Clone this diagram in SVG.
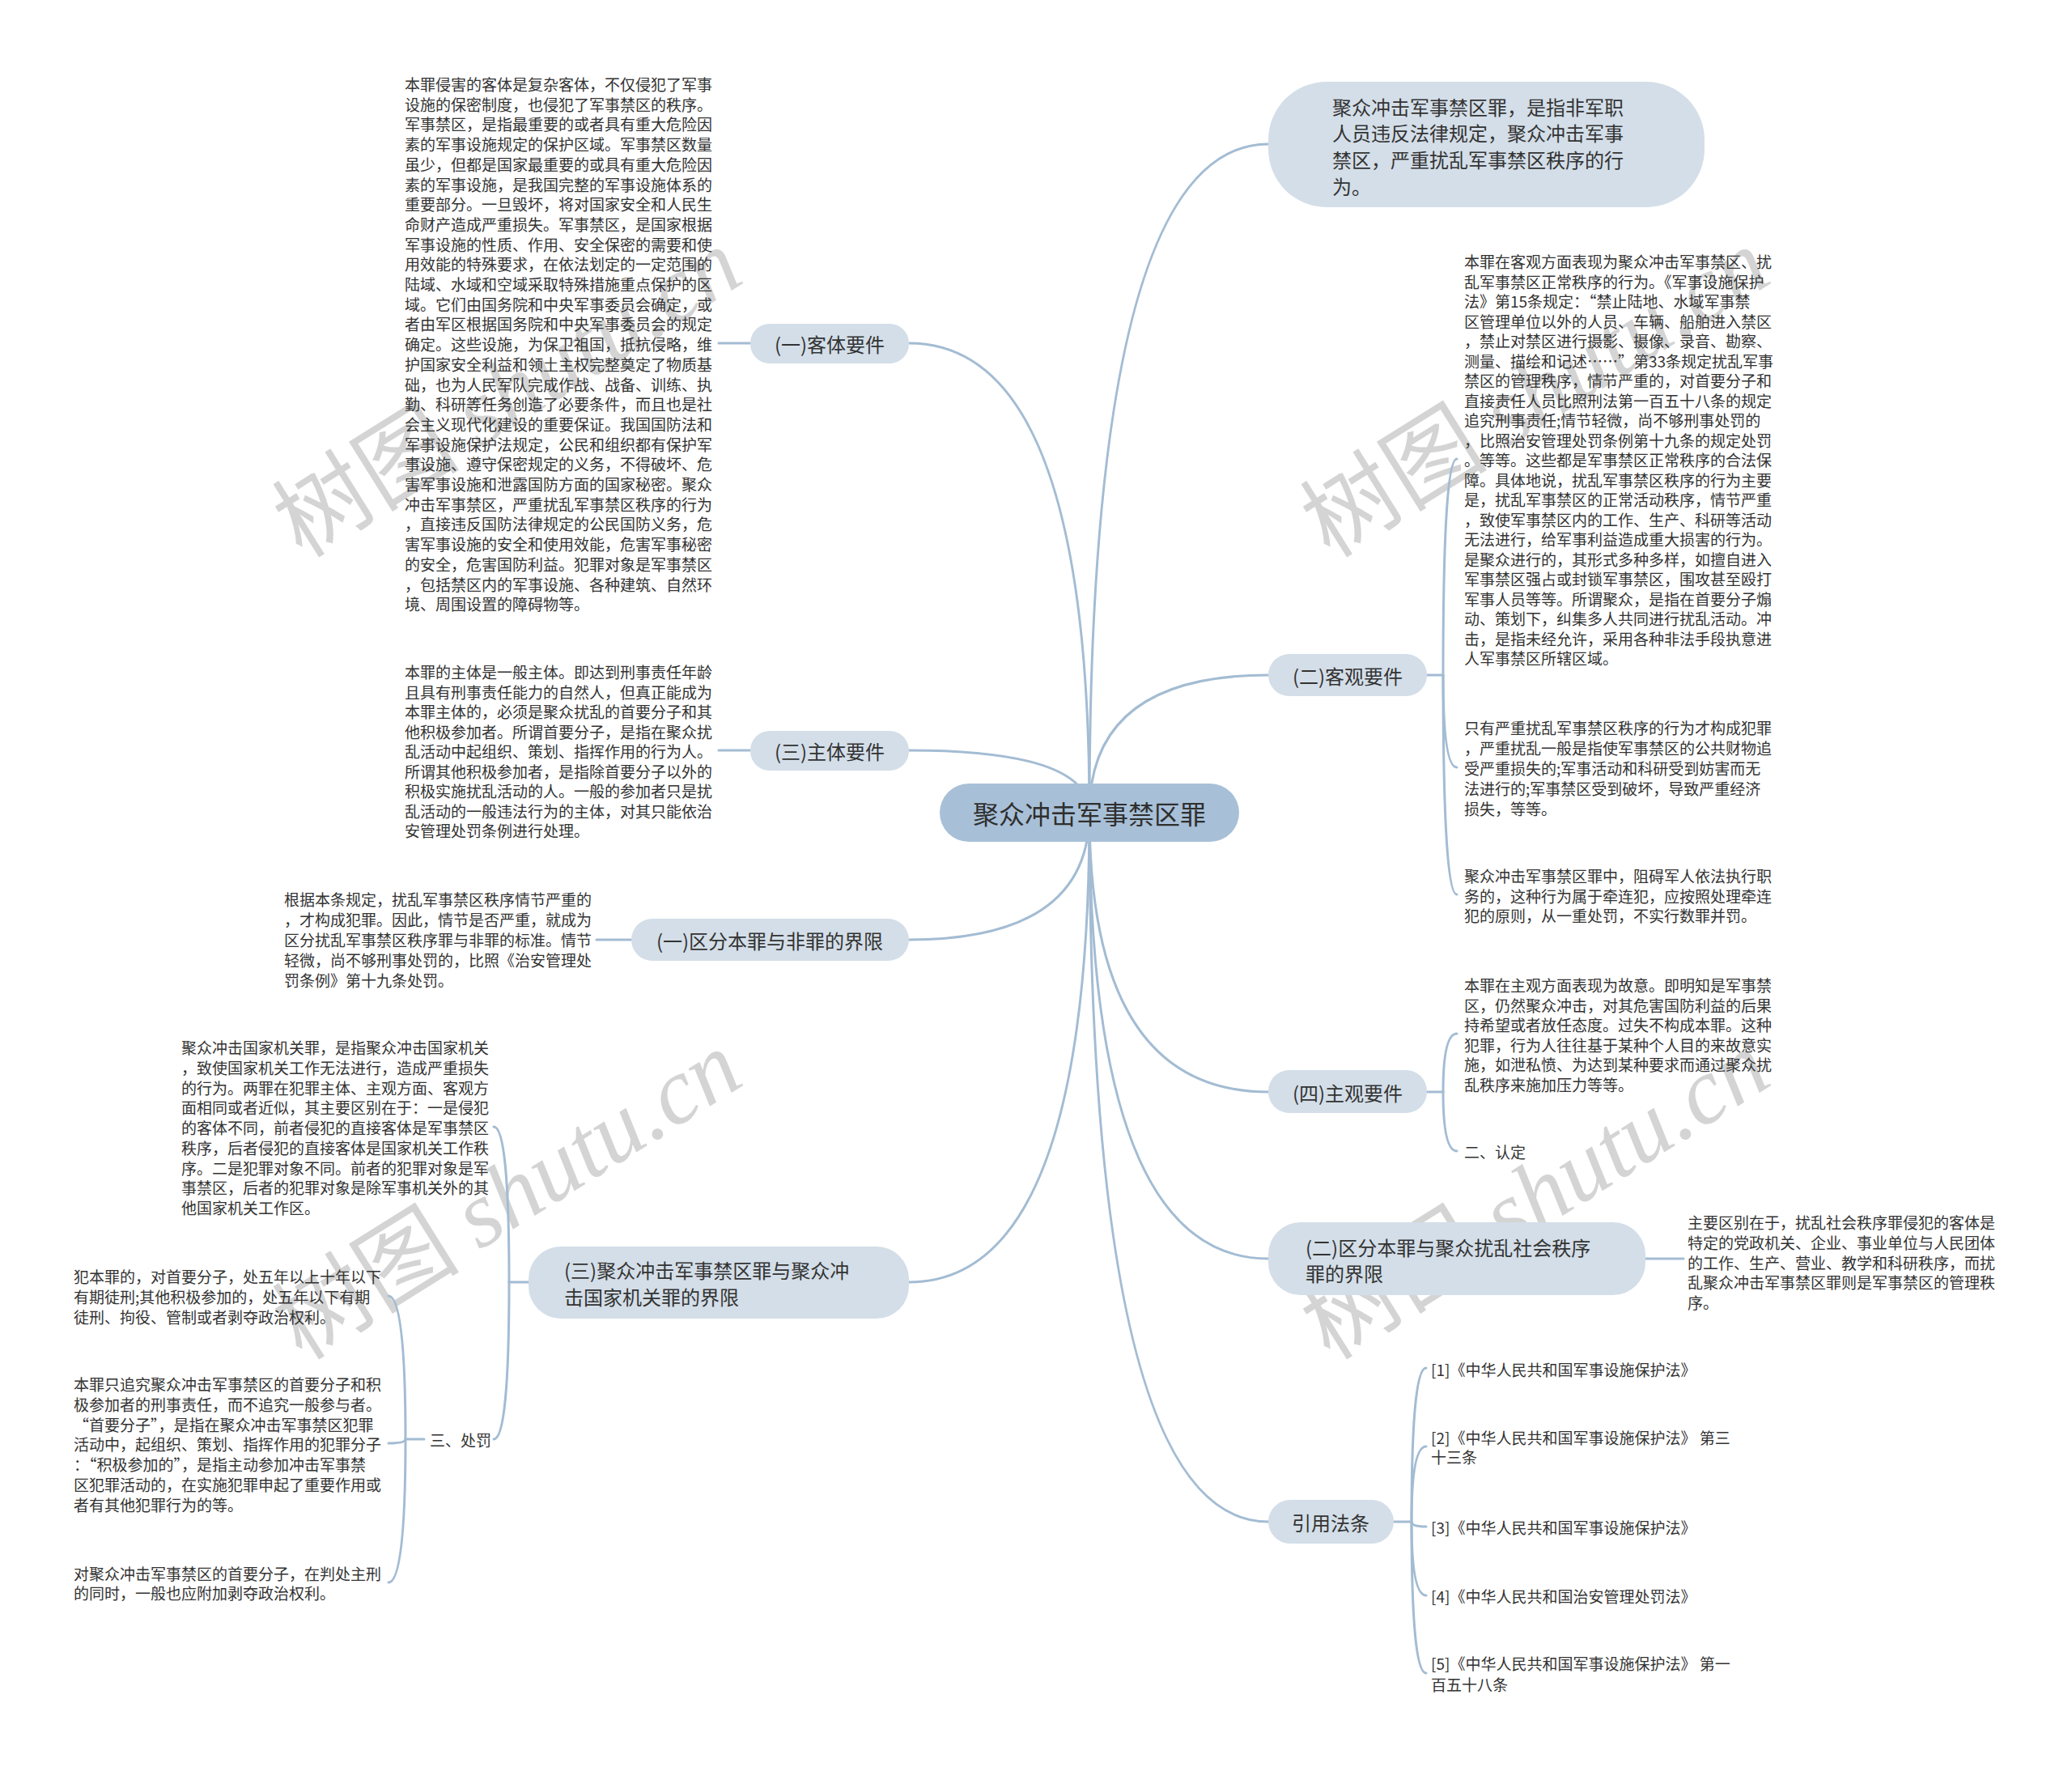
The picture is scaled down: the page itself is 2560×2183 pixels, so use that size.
<svg xmlns="http://www.w3.org/2000/svg" width="2560" height="2183" viewBox="0 0 2560 2183">
<style>
.bg{fill:#ffffff}
.wm{font-family:"Noto Sans CJK SC",sans-serif;font-size:116px;fill:#c2c2c2;opacity:0.7}
.wm .en{font-family:"Liberation Serif",serif;font-style:italic}
.ln{fill:none;stroke:#a3bcd3;stroke-width:3;stroke-linecap:round}
.n1{fill:#d3dee8}
.n0{fill:#a8c0d7}
.t1{font-family:"Noto Sans CJK SC","Liberation Sans",sans-serif;font-size:24px;fill:#333333;dominant-baseline:central}
.t0{font-family:"Noto Sans CJK SC","Liberation Sans",sans-serif;font-size:32px;fill:#2f2f2f;dominant-baseline:central}
.lf{font-family:"Noto Sans CJK SC","Liberation Sans",sans-serif;font-size:19px;fill:#333333;dominant-baseline:central}
.mid{text-anchor:middle}
</style>
<rect class="bg" x="0" y="0" width="2560" height="2183"/>

<g id="watermarks">
<text class="wm" text-anchor="middle" transform="translate(648,519) rotate(-32)">树图 <tspan class="en">shutu.cn</tspan></text>
<text class="wm" text-anchor="middle" transform="translate(1918,519) rotate(-32)">树图 <tspan class="en">shutu.cn</tspan></text>
<text class="wm" text-anchor="middle" transform="translate(648,1510) rotate(-32)">树图 <tspan class="en">shutu.cn</tspan></text>
<text class="wm" text-anchor="middle" transform="translate(1918,1510) rotate(-32)">树图 <tspan class="en">shutu.cn</tspan></text>
</g>

<g id="connectors">
<path class="ln" d="M1346,1004 Q1346,424 1123,424"/>
<path class="ln" d="M1346,1004 Q1346,927 1123,927"/>
<path class="ln" d="M1346,1004 Q1346,1161 1123,1161"/>
<path class="ln" d="M1346,1004 Q1346,1584 1123,1584"/>
<path class="ln" d="M1346,1004 Q1346,178 1567,178"/>
<path class="ln" d="M1346,1004 Q1346,834 1567,834"/>
<path class="ln" d="M1346,1004 Q1346,1349 1567,1349"/>
<path class="ln" d="M1346,1004 Q1346,1555 1567,1555"/>
<path class="ln" d="M1346,1004 Q1346,1880 1567,1880"/>
<path class="ln" d="M927,424 H888"/>
<path class="ln" d="M927,927 H888"/>
<path class="ln" d="M780,1161 H737"/>
<path class="ln" d="M653,1584 H629"/>
<path class="ln" d="M629,1584 Q629,1392 610,1392"/>
<path class="ln" d="M629,1584 Q629,1778 610,1778"/>
<path class="ln" d="M524,1778 H501"/>
<path class="ln" d="M501,1778 Q501,1601 480,1601"/>
<path class="ln" d="M501,1778 Q501,1783 480,1783"/>
<path class="ln" d="M501,1778 Q501,1955 480,1955"/>
<path class="ln" d="M1763,834 H1783"/>
<path class="ln" d="M1783,834 Q1783,567 1800,567"/>
<path class="ln" d="M1783,834 Q1783,948 1800,948"/>
<path class="ln" d="M1783,834 Q1783,1105 1800,1105"/>
<path class="ln" d="M1763,1349 H1783"/>
<path class="ln" d="M1783,1349 Q1783,1277 1800,1277"/>
<path class="ln" d="M1783,1349 Q1783,1422 1800,1422"/>
<path class="ln" d="M2033,1555 H2080"/>
<path class="ln" d="M1722,1880 H1744"/>
<path class="ln" d="M1744,1880 Q1744,1690 1762,1690"/>
<path class="ln" d="M1744,1880 Q1744,1787 1762,1787"/>
<path class="ln" d="M1744,1880 Q1744,1886 1762,1886"/>
<path class="ln" d="M1744,1880 Q1744,1971 1762,1971"/>
<path class="ln" d="M1744,1880 Q1744,2067 1762,2067"/>
</g>

<g id="root">
<rect class="n0" x="1161" y="968" width="370" height="72" rx="36"/>
<text class="t0 mid" x="1346" y="1004">聚众冲击军事禁区罪</text>
</g>

<g id="def">
<rect class="n1" x="1567" y="101" width="539" height="155" rx="72"/>
<text class="t1"><tspan x="1646" y="131">聚众冲击军事禁区罪，是指非军职</tspan><tspan x="1646" y="163">人员违反法律规定，聚众冲击军事</tspan><tspan x="1646" y="196">禁区，严重扰乱军事禁区秩序的行</tspan><tspan x="1646" y="229">为。</tspan></text>
</g>

<g id="keti">
<rect class="n1" x="927" y="400" width="196" height="49" rx="24"/>
<text class="t1 mid" x="1025" y="424">(一)客体要件</text>
</g>
<g id="keti-text">
<text class="lf"><tspan x="500" y="103">本罪侵害的客体是复杂客体，不仅侵犯了军事</tspan><tspan x="500" y="127.7">设施的保密制度，也侵犯了军事禁区的秩序。</tspan><tspan x="500" y="152.4">军事禁区，是指最重要的或者具有重大危险因</tspan><tspan x="500" y="177.1">素的军事设施规定的保护区域。军事禁区数量</tspan><tspan x="500" y="201.8">虽少，但都是国家最重要的或具有重大危险因</tspan><tspan x="500" y="226.5">素的军事设施，是我国完整的军事设施体系的</tspan><tspan x="500" y="251.2">重要部分。一旦毁坏，将对国家安全和人民生</tspan><tspan x="500" y="275.9">命财产造成严重损失。军事禁区，是国家根据</tspan><tspan x="500" y="300.6">军事设施的性质、作用、安全保密的需要和使</tspan><tspan x="500" y="325.3">用效能的特殊要求，在依法划定的一定范围的</tspan><tspan x="500" y="350">陆域、水域和空域采取特殊措施重点保护的区</tspan><tspan x="500" y="374.7">域。它们由国务院和中央军事委员会确定，或</tspan><tspan x="500" y="399.4">者由军区根据国务院和中央军事委员会的规定</tspan><tspan x="500" y="424.1">确定。这些设施，为保卫祖国，抵抗侵略，维</tspan><tspan x="500" y="448.8">护国家安全利益和领土主权完整奠定了物质基</tspan><tspan x="500" y="473.5">础，也为人民军队完成作战、战备、训练、执</tspan><tspan x="500" y="498.2">勤、科研等任务创造了必要条件，而且也是社</tspan><tspan x="500" y="522.9">会主义现代化建设的重要保证。我国国防法和</tspan><tspan x="500" y="547.6">军事设施保护法规定，公民和组织都有保护军</tspan><tspan x="500" y="572.3">事设施、遵守保密规定的义务，不得破坏、危</tspan><tspan x="500" y="597">害军事设施和泄露国防方面的国家秘密。聚众</tspan><tspan x="500" y="621.7">冲击军事禁区，严重扰乱军事禁区秩序的行为</tspan><tspan x="500" y="646.4">，直接违反国防法律规定的公民国防义务，危</tspan><tspan x="500" y="671.1">害军事设施的安全和使用效能，危害军事秘密</tspan><tspan x="500" y="695.8">的安全，危害国防利益。犯罪对象是军事禁区</tspan><tspan x="500" y="720.5">，包括禁区内的军事设施、各种建筑、自然环</tspan><tspan x="500" y="745.2">境、周围设置的障碍物等。</tspan></text>
</g>

<g id="zhuti">
<rect class="n1" x="927" y="903" width="196" height="49" rx="24"/>
<text class="t1 mid" x="1025" y="927">(三)主体要件</text>
</g>
<g id="zhuti-text">
<text class="lf"><tspan x="500" y="829">本罪的主体是一般主体。即达到刑事责任年龄</tspan><tspan x="500" y="853.5">且具有刑事责任能力的自然人，但真正能成为</tspan><tspan x="500" y="878">本罪主体的，必须是聚众扰乱的首要分子和其</tspan><tspan x="500" y="902.5">他积极参加者。所谓首要分子，是指在聚众扰</tspan><tspan x="500" y="927">乱活动中起组织、策划、指挥作用的行为人。</tspan><tspan x="500" y="951.5">所谓其他积极参加者，是指除首要分子以外的</tspan><tspan x="500" y="976">积极实施扰乱活动的人。一般的参加者只是扰</tspan><tspan x="500" y="1000.5">乱活动的一般违法行为的主体，对其只能依治</tspan><tspan x="500" y="1025">安管理处罚条例进行处理。</tspan></text>
</g>

<g id="feizui">
<rect class="n1" x="780" y="1135" width="343" height="52" rx="26"/>
<text class="t1 mid" x="951" y="1161">(一)区分本罪与非罪的界限</text>
</g>
<g id="feizui-text">
<text class="lf"><tspan x="351" y="1110">根据本条规定，扰乱军事禁区秩序情节严重的</tspan><tspan x="351" y="1135">，才构成犯罪。因此，情节是否严重，就成为</tspan><tspan x="351" y="1160">区分扰乱军事禁区秩序罪与非罪的标准。情节</tspan><tspan x="351" y="1185">轻微，尚不够刑事处罚的，比照《治安管理处</tspan><tspan x="351" y="1210">罚条例》第十九条处罚。</tspan></text>
</g>

<g id="jiguan">
<rect class="n1" x="653" y="1540" width="470" height="89" rx="40"/>
<text class="t1"><tspan x="697" y="1568">(三)聚众冲击军事禁区罪与聚众冲</tspan><tspan x="697" y="1601">击国家机关罪的界限</tspan></text>
</g>
<g id="jiguan-text">
<text class="lf"><tspan x="224" y="1293">聚众冲击国家机关罪，是指聚众冲击国家机关</tspan><tspan x="224" y="1317.75">，致使国家机关工作无法进行，造成严重损失</tspan><tspan x="224" y="1342.5">的行为。两罪在犯罪主体、主观方面、客观方</tspan><tspan x="224" y="1367.25">面相同或者近似，其主要区别在于：一是侵犯</tspan><tspan x="224" y="1392">的客体不同，前者侵犯的直接客体是军事禁区</tspan><tspan x="224" y="1416.75">秩序，后者侵犯的直接客体是国家机关工作秩</tspan><tspan x="224" y="1441.5">序。二是犯罪对象不同。前者的犯罪对象是军</tspan><tspan x="224" y="1466.25">事禁区，后者的犯罪对象是除军事机关外的其</tspan><tspan x="224" y="1491">他国家机关工作区。</tspan></text>
</g>

<g id="chufa">
<text class="lf" x="531" y="1778">三、处罚</text>
</g>
<g id="chufa-1">
<text class="lf"><tspan x="91" y="1576">犯本罪的，对首要分子，处五年以上十年以下</tspan><tspan x="91" y="1601">有期徒刑;其他积极参加的，处五年以下有期</tspan><tspan x="91" y="1626">徒刑、拘役、管制或者剥夺政治权利。</tspan></text>
</g>
<g id="chufa-2">
<text class="lf"><tspan x="91" y="1709">本罪只追究聚众冲击军事禁区的首要分子和积</tspan><tspan x="91" y="1733.8">极参加者的刑事责任，而不追究一般参与者。</tspan><tspan x="91" y="1758.6">“首要分子”，是指在聚众冲击军事禁区犯罪</tspan><tspan x="91" y="1783.4">活动中，起组织、策划、指挥作用的犯罪分子</tspan><tspan x="91" y="1808.2">：“积极参加的”，是指主动参加冲击军事禁</tspan><tspan x="91" y="1833">区犯罪活动的，在实施犯罪申起了重要作用或</tspan><tspan x="91" y="1857.8">者有其他犯罪行为的等。</tspan></text>
</g>
<g id="chufa-3">
<text class="lf"><tspan x="91" y="1943">对聚众冲击军事禁区的首要分子，在判处主刑</tspan><tspan x="91" y="1967">的同时，一般也应附加剥夺政治权利。</tspan></text>
</g>

<g id="keguan">
<rect class="n1" x="1567" y="808" width="196" height="52" rx="26"/>
<text class="t1 mid" x="1665" y="834">(二)客观要件</text>
</g>
<g id="keguan-1">
<text class="lf"><tspan x="1809" y="322">本罪在客观方面表现为聚众冲击军事禁区、扰</tspan><tspan x="1809" y="346.5">乱军事禁区正常秩序的行为。《军事设施保护</tspan><tspan x="1809" y="371">法》第15条规定：“禁止陆地、水域军事禁</tspan><tspan x="1809" y="395.5">区管理单位以外的人员、车辆、船舶进入禁区</tspan><tspan x="1809" y="420">，禁止对禁区进行摄影、摄像、录音、勘察、</tspan><tspan x="1809" y="444.5">测量、描绘和记述……”第33条规定扰乱军事</tspan><tspan x="1809" y="469">禁区的管理秩序，情节严重的，对首要分子和</tspan><tspan x="1809" y="493.5">直接责任人员比照刑法第一百五十八条的规定</tspan><tspan x="1809" y="518">追究刑事责任;情节轻微，尚不够刑事处罚的</tspan><tspan x="1809" y="542.5">，比照治安管理处罚条例第十九条的规定处罚</tspan><tspan x="1809" y="567">。等等。这些都是军事禁区正常秩序的合法保</tspan><tspan x="1809" y="591.5">障。具体地说，扰乱军事禁区秩序的行为主要</tspan><tspan x="1809" y="616">是，扰乱军事禁区的正常活动秩序，情节严重</tspan><tspan x="1809" y="640.5">，致使军事禁区内的工作、生产、科研等活动</tspan><tspan x="1809" y="665">无法进行，给军事利益造成重大损害的行为。</tspan><tspan x="1809" y="689.5">是聚众进行的，其形式多种多样，如擅自进入</tspan><tspan x="1809" y="714">军事禁区强占或封锁军事禁区，围攻甚至殴打</tspan><tspan x="1809" y="738.5">军事人员等等。所谓聚众，是指在首要分子煽</tspan><tspan x="1809" y="763">动、策划下，纠集多人共同进行扰乱活动。冲</tspan><tspan x="1809" y="787.5">击，是指未经允许，采用各种非法手段执意进</tspan><tspan x="1809" y="812">人军事禁区所辖区域。</tspan></text>
</g>
<g id="keguan-2">
<text class="lf"><tspan x="1809" y="898">只有严重扰乱军事禁区秩序的行为才构成犯罪</tspan><tspan x="1809" y="923">，严重扰乱一般是指使军事禁区的公共财物追</tspan><tspan x="1809" y="948">受严重损失的;军事活动和科研受到妨害而无</tspan><tspan x="1809" y="973">法进行的;军事禁区受到破坏，导致严重经济</tspan><tspan x="1809" y="998">损失，等等。</tspan></text>
</g>
<g id="keguan-3">
<text class="lf"><tspan x="1809" y="1081">聚众冲击军事禁区罪中，阻碍军人依法执行职</tspan><tspan x="1809" y="1105.5">务的，这种行为属于牵连犯，应按照处理牵连</tspan><tspan x="1809" y="1130">犯的原则，从一重处罚，不实行数罪并罚。</tspan></text>
</g>

<g id="zhuguan">
<rect class="n1" x="1567" y="1322" width="196" height="53" rx="26"/>
<text class="t1 mid" x="1665" y="1349">(四)主观要件</text>
</g>
<g id="zhuguan-1">
<text class="lf"><tspan x="1809" y="1216">本罪在主观方面表现为故意。即明知是军事禁</tspan><tspan x="1809" y="1240.6">区，仍然聚众冲击，对其危害国防利益的后果</tspan><tspan x="1809" y="1265.2">持希望或者放任态度。过失不构成本罪。这种</tspan><tspan x="1809" y="1289.8">犯罪，行为人往往基于某种个人目的来故意实</tspan><tspan x="1809" y="1314.4">施，如泄私愤、为达到某种要求而通过聚众扰</tspan><tspan x="1809" y="1339">乱秩序来施加压力等等。</tspan></text>
</g>
<g id="zhuguan-2">
<text class="lf" x="1809" y="1422">二、认定</text>
</g>

<g id="shehui">
<rect class="n1" x="1567" y="1510" width="466" height="90" rx="40"/>
<text class="t1"><tspan x="1613" y="1540">(二)区分本罪与聚众扰乱社会秩序</tspan><tspan x="1613" y="1572">罪的界限</tspan></text>
</g>
<g id="shehui-text">
<text class="lf"><tspan x="2085" y="1509">主要区别在于，扰乱社会秩序罪侵犯的客体是</tspan><tspan x="2085" y="1533.75">特定的党政机关、企业、事业单位与人民团体</tspan><tspan x="2085" y="1558.5">的工作、生产、营业、教学和科研秩序，而扰</tspan><tspan x="2085" y="1583.25">乱聚众冲击军事禁区罪则是军事禁区的管理秩</tspan><tspan x="2085" y="1608">序。</tspan></text>
</g>

<g id="fatiao">
<rect class="n1" x="1567" y="1853" width="155" height="54" rx="27"/>
<text class="t1 mid" x="1644" y="1880">引用法条</text>
</g>
<g id="ref-1"><text class="lf" x="1768" y="1691">[1]《中华人民共和国军事设施保护法》</text></g>
<g id="ref-2"><text class="lf"><tspan x="1768" y="1775">[2]《中华人民共和国军事设施保护法》 第三</tspan><tspan x="1768" y="1799">十三条</tspan></text></g>
<g id="ref-3"><text class="lf" x="1768" y="1886">[3]《中华人民共和国军事设施保护法》</text></g>
<g id="ref-4"><text class="lf" x="1768" y="1971">[4]《中华人民共和国治安管理处罚法》</text></g>
<g id="ref-5"><text class="lf"><tspan x="1768" y="2054">[5]《中华人民共和国军事设施保护法》 第一</tspan><tspan x="1768" y="2080">百五十八条</tspan></text></g>
</svg>
